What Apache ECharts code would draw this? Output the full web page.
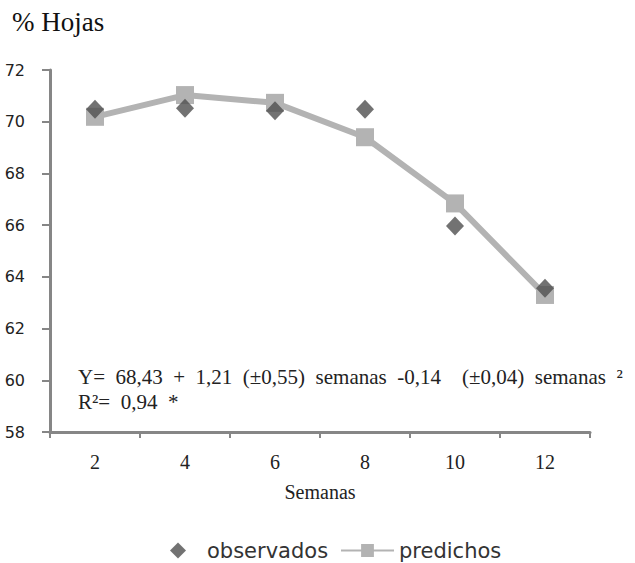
<!DOCTYPE html>
<html>
<head>
<meta charset="utf-8">
<script src="https://cdn.jsdelivr.net/npm/echarts@6/dist/echarts.min.js"></script>
<style>html,body{margin:0;padding:0;background:#fff}#c{width:635px;height:563px}</style>
</head>
<body>
<div id="c"></div>
<script>
const semanas = ['2', '4', '6', '8', '10', '12'];
const observados = [70.48, 70.52, 70.42, 70.48, 65.97, 63.56];
const predichos = [70.19, 71.03, 70.73, 69.40, 66.84, 63.30];
const yMin = 58, yMax = 72, yStep = 2;
const titleText = '% Hojas';
const eqLine1 = 'Y=  68,43  +  1,21  (±0,55)  semanas  -0,14    (±0,04)  semanas  ²';
const eqLine2 = 'R²=  0,94  *';

const chart = echarts.init(document.getElementById('c'), null, {renderer: 'svg'});
const serif = '"Liberation Serif", "DejaVu Serif", serif';
const sans = '"DejaVu Sans", Verdana, sans-serif';
const legendText = {fontFamily: sans, fontSize: 21, color: '#333', lineHeight: 20};
chart.setOption({
  animation: false,
  backgroundColor: '#fff',
  grid: {left: 50, right: 45, top: 70, bottom: 131},
  xAxis: {
    type: 'category',
    data: semanas,
    boundaryGap: true,
    name: 'Semanas',
    nameLocation: 'middle',
    nameGap: 50,
    nameTextStyle: {fontFamily: serif, fontSize: 20, color: '#222'},
    axisLine: {lineStyle: {color: '#868686', width: 3}},
    axisTick: {show: true, length: 6, lineStyle: {color: '#868686', width: 2}},
    axisLabel: {fontFamily: serif, fontSize: 20, color: '#222', margin: 20},
    splitLine: {show: false}
  },
  yAxis: {
    type: 'value',
    min: yMin, max: yMax, interval: yStep,
    axisLine: {show: true, lineStyle: {color: '#868686', width: 3}},
    axisTick: {show: true, length: 8, lineStyle: {color: '#868686', width: 2}},
    axisLabel: {fontFamily: sans, fontSize: 16, color: '#222', margin: 25},
    splitLine: {show: false}
  },
  legend: [
    {
      data: [{name: 'observados', icon: 'diamond'}],
      left: 170, top: 540, padding: 0,
      itemWidth: 16, itemHeight: 16,
      textStyle: Object.assign({padding: [0, 0, 0, 16]}, legendText)
    },
    {
      data: ['predichos'],
      left: 340, top: 540, padding: 0,
      itemWidth: 53, itemHeight: 16,
      textStyle: Object.assign({padding: [0, 0, 0, 0]}, legendText)
    }
  ],
  graphic: [
    {type: 'text', left: 12, top: 8, style: {text: titleText, font: '27px ' + serif, fill: '#111'}},
    {type: 'text', left: 78, top: 366, style: {text: eqLine1, font: '21px ' + serif, fill: '#222'}},
    {type: 'text', left: 78, top: 391, style: {text: eqLine2, font: '21px ' + serif, fill: '#222'}}
  ],
  series: [
    {
      name: 'predichos',
      type: 'line',
      data: predichos,
      symbol: 'rect',
      symbolSize: 18,
      lineStyle: {color: '#b3b3b3', width: 6},
      itemStyle: {color: '#b3b3b3'},
      z: 2
    },
    {
      name: 'observados',
      type: 'scatter',
      data: observados,
      symbol: 'diamond',
      symbolSize: [18, 19],
      itemStyle: {color: '#4f4f4f'},
      z: 3
    }
  ]
});
</script>
</body>
</html>
